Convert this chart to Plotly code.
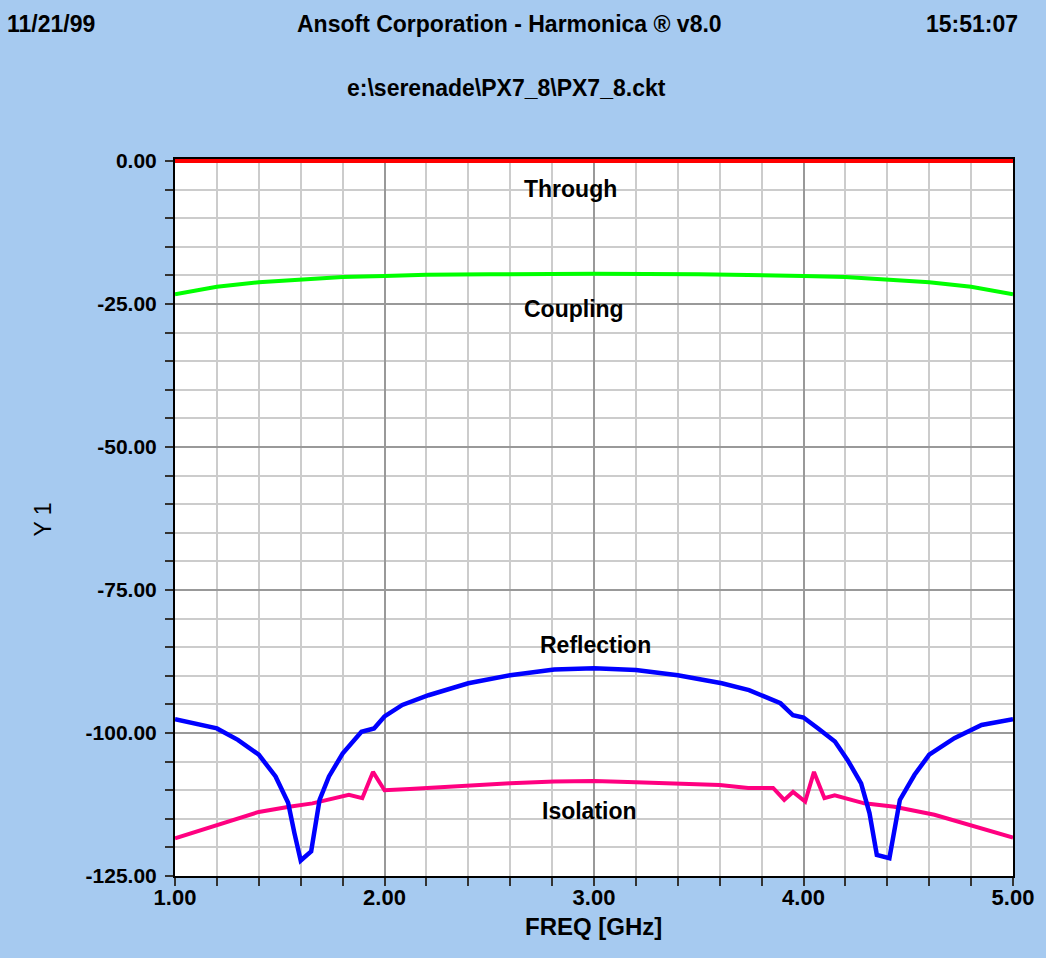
import plotly.graph_objects as go

# ---- data ----
freq_through = [1.00, 5.00]
through = [0.0, 0.0]

freq_cpl = [1.0, 1.2, 1.4, 1.6, 1.8, 2.0, 2.2, 2.5, 3.0, 3.5, 3.8, 4.0, 4.2, 4.4, 4.6, 4.8, 5.0]
coupling = [-23.3, -22.0, -21.2, -20.7, -20.3, -20.1, -19.9, -19.8, -19.7, -19.8, -19.9, -20.1,
            -20.3, -20.7, -21.2, -22.0, -23.3]

freq_refl = [1.00, 1.10, 1.20, 1.30, 1.40, 1.48, 1.54, 1.57, 1.60, 1.65,
             1.67, 1.69, 1.735, 1.80, 1.89, 1.95, 2.00, 2.085, 2.21, 2.40,
             2.60, 2.81, 3.00, 3.20, 3.40, 3.61, 3.74, 3.815, 3.89, 3.95,
             4.00, 4.07, 4.15, 4.21, 4.275, 4.315, 4.35, 4.41, 4.435, 4.46,
             4.53, 4.60, 4.72, 4.85, 5.00]
reflection = [-97.6, -98.3, -99.2, -101.2, -103.8, -107.6, -112.2, -117.5, -122.3, -120.7,
              -116.4, -111.7, -107.6, -103.6, -99.8, -99.2, -97.1, -95.1, -93.4, -91.3,
              -89.9, -88.9, -88.7, -89.0, -89.9, -91.3, -92.5, -93.7, -94.8, -96.9,
              -97.3, -99.2, -101.5, -104.7, -108.8, -114.0, -121.3, -121.9, -116.4, -111.7,
              -107.3, -103.8, -100.9, -98.6, -97.6]

freq_iso = [1.00, 1.20, 1.40, 1.545, 1.656, 1.83, 1.894, 1.945, 2.00, 2.12,
            2.31, 2.40, 2.60, 2.81, 3.00, 3.20, 3.40, 3.60, 3.736, 3.855,
            3.908, 3.95, 4.008, 4.05, 4.10, 4.149, 4.29, 4.434, 4.625, 4.85, 5.00]
isolation = [-118.4, -116.1, -113.8, -112.9, -112.3, -110.8, -111.4, -106.8, -110.0, -109.8,
             -109.4, -109.1, -108.8, -108.5, -108.4, -108.6, -108.8, -109.1, -109.6, -109.6,
             -111.7, -110.3, -112.0, -106.8, -111.4, -110.9, -112.3, -112.9, -114.3, -116.7, -118.3]

x_tickvals = [1.0, 2.0, 3.0, 4.0, 5.0]
x_ticktext = ["1.00", "2.00", "3.00", "4.00", "5.00"]
y_tickvals = [0, -25, -50, -75, -100, -125]
y_ticktext = ["0.00", "-25.00", "-50.00", "-75.00", "-100.00", "-125.00"]

trace_labels = ["Through", "Coupling", "Reflection", "Isolation"]
label_x = [2.89, 2.906, 3.006, 2.978]
label_y = [-4.9, -25.9, -84.6, -113.6]

FONT = "Liberation Sans, Arial, sans-serif"
BG = "#A6CAF0"

fig = go.Figure()
fig.add_trace(go.Scatter(x=freq_cpl, y=coupling, mode="lines",
                         line=dict(color="#00FF00", width=4), name="Coupling"))
fig.add_trace(go.Scatter(x=freq_iso, y=isolation, mode="lines",
                         line=dict(color="#FF0080", width=4), name="Isolation"))
fig.add_trace(go.Scatter(x=freq_refl, y=reflection, mode="lines",
                         line=dict(color="#0000FF", width=4.5), name="Reflection"))
fig.add_trace(go.Scatter(x=freq_through, y=through, mode="lines",
                         line=dict(color="#FF0000", width=4), name="Through"))

for t, lx, ly in zip(trace_labels, label_x, label_y):
    fig.add_annotation(x=lx, y=ly, xref="x", yref="y", text=t, showarrow=False,
                       font=dict(family=FONT, size=23, color="black", weight="bold"))

hdr = dict(family=FONT, size=23, color="black", weight="bold")
fig.add_annotation(x=-0.1474, y=1.1883, xref="paper", yref="paper", text="11/21/99",
                   showarrow=False, font=hdr, xanchor="center", yanchor="middle")
fig.add_annotation(x=0.3995, y=1.1883, xref="paper", yref="paper",
                   text="Ansoft Corporation - Harmonica \u00ae v8.0",
                   showarrow=False, font=hdr, xanchor="center", yanchor="middle")
fig.add_annotation(x=0.951, y=1.1883, xref="paper", yref="paper", text="15:51:07",
                   showarrow=False, font=hdr, xanchor="center", yanchor="middle")
fig.add_annotation(x=0.396, y=1.099, xref="paper", yref="paper",
                   text="e:\\serenade\\PX7_8\\PX7_8.ckt",
                   showarrow=False, font=hdr, xanchor="center", yanchor="middle")
fig.add_annotation(x=0.4994, y=-0.0711, xref="paper", yref="paper", text="FREQ [GHz]",
                   showarrow=False, font=dict(family=FONT, size=24, color="black", weight="bold"),
                   xanchor="center", yanchor="middle")
fig.add_annotation(x=-0.158, y=0.4965, xref="paper", yref="paper", text="Y 1",
                   showarrow=False, textangle=-90,
                   font=dict(family=FONT, size=23, color="black"),
                   xanchor="center", yanchor="middle")

fig.update_layout(
    width=1046, height=958,
    margin=dict(l=175, r=30, t=159, b=82),
    paper_bgcolor=BG, plot_bgcolor="white",
    showlegend=False,
    font=dict(family=FONT, size=22, color="black"),
)
fig.update_xaxes(
    range=[1.0, 5.0], tickvals=x_tickvals, ticktext=x_ticktext,
    ticks="outside", ticklen=8, tickwidth=2, tickcolor="#333333",
    tickfont=dict(family=FONT, size=22, color="black", weight="bold"),
    ticklabelstandoff=-7,
    showline=True, linecolor="black", linewidth=2, mirror=True,
    layer="below traces",
    showgrid=True, gridcolor="#999999", gridwidth=1.5, zeroline=False,
    minor=dict(dtick=0.2, tick0=1.0, ticks="outside", ticklen=8, tickwidth=2,
               tickcolor="#333333", showgrid=True, gridcolor="#CCCCCC", gridwidth=2),
)
fig.update_yaxes(
    range=[-125, 0.35], tickvals=y_tickvals, ticktext=y_ticktext,
    ticks="outside", ticklen=8, tickwidth=2, tickcolor="#333333",
    tickfont=dict(family=FONT, size=21, color="black", weight="bold"),
    ticklabelstandoff=4,
    showline=True, linecolor="black", linewidth=2, mirror=True,
    layer="below traces",
    showgrid=True, gridcolor="#999999", gridwidth=1.5, zeroline=False,
    minor=dict(dtick=5, tick0=0, ticks="outside", ticklen=8, tickwidth=2,
               tickcolor="#333333", showgrid=True, gridcolor="#CCCCCC", gridwidth=2),
)

fig.write_html("out.html", config={"displayModeBar": False},
               post_script="document.body.style.margin='0';")
